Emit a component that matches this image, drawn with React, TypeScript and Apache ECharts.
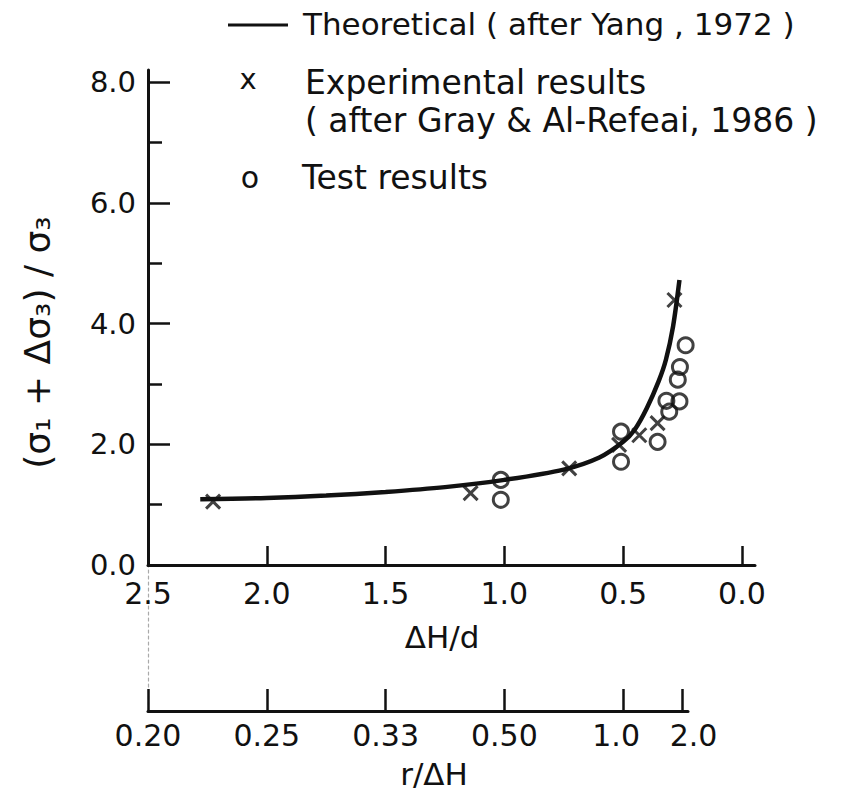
import React, { useEffect, useRef } from "react";
import * as echarts from "echarts";

// ---- data ----
const curveX = [2.28, 2.0, 1.75, 1.5, 1.25, 1.0, 0.75, 0.6, 0.5, 0.45, 0.4, 0.35, 0.32, 0.29, 0.263];
const curveY = [1.09, 1.11, 1.15, 1.21, 1.29, 1.41, 1.58, 1.78, 2.04, 2.25, 2.6, 3.05, 3.4, 3.95, 4.72];

const expX = [2.226, 1.142, 0.727, 0.517, 0.432, 0.355, 0.284];
const expY = [1.05, 1.19, 1.6, 1.99, 2.15, 2.35, 4.39];

const testX = [1.015, 1.015, 0.509, 0.509, 0.355, 0.306, 0.318, 0.263, 0.27, 0.261, 0.237];
const testY = [1.41, 1.08, 2.21, 1.71, 2.04, 2.54, 2.72, 2.71, 3.07, 3.28, 3.64];

const xTickValues = [2.5, 2.0, 1.5, 1.0, 0.5, 0.0];
const xTickMarks = [2.0, 1.5, 1.0, 0.5, 0.0];
const yTickValues = [0, 2, 4, 6, 8];
const yMinorTicks = [1, 3, 5, 7];

// r/ΔH secondary scale (r = d/2, so ΔH/d = 0.5 / (r/ΔH))
const rValues = [0.2, 0.25, 1 / 3, 0.5, 1.0, 2.0];
const rLabels = ["0.20", "0.25", "0.33", "0.50", "1.0", "2.0"];

const legendTexts = [
  "Theoretical ( after Yang , 1972 )",
  "Experimental results",
  "( after Gray & Al-Refeai, 1986 )",
  "Test results",
];

const INK = "#111";
const FONT = "'DejaVu Sans', 'Liberation Sans', sans-serif";

export default function App() {
  const ref = useRef<HTMLDivElement>(null);

  useEffect(() => {
    if (!ref.current) return;
    const chart = echarts.init(ref.current, undefined, { renderer: "svg" });

    const rPositions = rValues.map((r) => 0.5 / r);
    const rIndexFor = (v: number) => {
      let best = 0;
      let bd = Infinity;
      rPositions.forEach((p, i) => {
        const d = Math.abs(p - v);
        if (d < bd) {
          bd = d;
          best = i;
        }
      });
      return best;
    };
    const rLabelFormatter = (v: number) => {
      const i = rIndexFor(v);
      const txt = rLabels[i];
      if (i === rLabels.length - 1) return "{sr|" + txt + "}";
      if (i === rLabels.length - 2) return "{sl|" + txt + "}";
      return txt;
    };

    const option: any = {
      animation: false,
      backgroundColor: "#fff",
      textStyle: { fontFamily: FONT, color: INK },
      grid: [
        { left: 148, top: 70, width: 607, height: 495, containLabel: false, outerBoundsMode: "none" },
        { left: 148, top: 565, width: 540, height: 146, containLabel: false, outerBoundsMode: "none" },
      ],
      xAxis: [
        {
          type: "value",
          gridIndex: 0,
          inverse: true,
          min: -0.055,
          max: 2.5,
          axisLine: { show: true, onZero: false, lineStyle: { color: INK, width: 3 } },
          axisTick: {
            show: true,
            inside: true,
            length: 19,
            customValues: xTickMarks,
            lineStyle: { color: INK, width: 2.5 },
          },
          axisLabel: {
            show: true,
            customValues: xTickValues,
            formatter: (v: number) => v.toFixed(1),
            margin: 13,
            fontSize: 30,
            color: INK,
            fontFamily: FONT,
          },
          splitLine: { show: false },
          name: "ΔH/d",
          nameLocation: "middle",
          nameGap: 56,
          nameTextStyle: { fontSize: 31, color: INK, fontFamily: FONT, padding: [0, 19, 0, 0] },
        },
        {
          type: "value",
          gridIndex: 1,
          inverse: true,
          min: 0.227,
          max: 2.5,
          axisLine: { show: true, onZero: false, lineStyle: { color: INK, width: 3 } },
          axisTick: {
            show: true,
            inside: true,
            length: 22,
            customValues: rPositions,
            lineStyle: { color: INK, width: 2.5 },
          },
          axisLabel: {
            show: true,
            customValues: rPositions,
            formatter: rLabelFormatter,
            margin: 9,
            fontSize: 30,
            color: INK,
            fontFamily: FONT,
            rich: {
              sl: { fontSize: 30, fontFamily: FONT, color: INK, padding: [0, 14, 0, 0] },
              sr: { fontSize: 30, fontFamily: FONT, color: INK, padding: [0, 0, 0, 22] },
            },
          },
          splitLine: { show: false },
          name: "r/ΔH",
          nameLocation: "middle",
          nameGap: 47,
          nameTextStyle: { fontSize: 31, color: INK, fontFamily: FONT, padding: [0, 0, 0, 32] },
        },
      ],
      yAxis: [
        {
          type: "value",
          gridIndex: 0,
          position: "left",
          min: 0,
          max: 8.2,
          axisLine: { show: true, onZero: false, lineStyle: { color: INK, width: 3 } },
          axisTick: {
            show: true,
            inside: true,
            length: 22,
            customValues: yTickValues,
            lineStyle: { color: INK, width: 2.5 },
          },
          axisLabel: {
            show: true,
            customValues: yTickValues,
            formatter: (v: number) => v.toFixed(1),
            margin: 12,
            fontSize: 29,
            color: INK,
            fontFamily: FONT,
          },
          splitLine: { show: false },
          name: "(σ₁ + Δσ₃) / σ₃",
          nameLocation: "middle",
          nameGap: 93,
          nameTextStyle: { fontSize: 36, color: INK, fontFamily: FONT, padding: [0, 50, 0, 0] },
        },
        {
          type: "value",
          gridIndex: 0,
          position: "left",
          min: 0,
          max: 8.2,
          axisLine: { show: false, onZero: false },
          axisTick: {
            show: true,
            inside: true,
            length: 14,
            customValues: yMinorTicks,
            lineStyle: { color: INK, width: 2.5 },
          },
          axisLabel: { show: false },
          splitLine: { show: false },
        },
        {
          type: "value",
          gridIndex: 1,
          position: "left",
          min: 0,
          max: 1,
          axisLine: { show: true, onZero: false, lineStyle: { color: "#aaa", width: 1.2, type: [3, 3] } },
          axisTick: { show: false },
          axisLabel: { show: false },
          splitLine: { show: false },
        },
      ],
      series: [
        {
          type: "line",
          name: legendTexts[0],
          xAxisIndex: 0,
          yAxisIndex: 0,
          data: curveX.map((x, i) => [x, curveY[i]]),
          showSymbol: false,
          smooth: 0.3,
          lineStyle: { color: INK, width: 4.5 },
          z: 2,
        },
        {
          type: "scatter",
          name: legendTexts[1],
          xAxisIndex: 0,
          yAxisIndex: 0,
          data: expX.map((x, i) => [x, expY[i]]),
          symbol: "path://M0,0L10,10M10,0L0,10",
          symbolSize: 14,
          itemStyle: { color: INK, borderColor: INK, borderWidth: 3 },
          z: 3,
        },
        {
          type: "scatter",
          name: legendTexts[3],
          xAxisIndex: 0,
          yAxisIndex: 0,
          data: testX.map((x, i) => [x, testY[i]]),
          symbol: "circle",
          symbolSize: 15,
          itemStyle: { color: "rgba(255,255,255,0)", borderColor: INK, borderWidth: 3 },
          z: 3,
        },
      ],
      graphic: [
        {
          type: "line",
          shape: { x1: 228, y1: 25, x2: 288, y2: 25 },
          style: { stroke: INK, lineWidth: 3 },
        },
        {
          type: "text",
          x: 303,
          y: 24,
          style: { text: legendTexts[0], fontSize: 31, fontFamily: FONT, fill: INK, align: "left", verticalAlign: "middle" },
        },
        {
          type: "text",
          x: 248,
          y: 79,
          style: { text: "x", fontSize: 29, fontFamily: FONT, fill: INK, align: "center", verticalAlign: "middle" },
        },
        {
          type: "text",
          x: 305,
          y: 82,
          style: { text: legendTexts[1], fontSize: 33, fontFamily: FONT, fill: INK, align: "left", verticalAlign: "middle" },
        },
        {
          type: "text",
          x: 305,
          y: 120,
          style: { text: legendTexts[2], fontSize: 33, fontFamily: FONT, fill: INK, align: "left", verticalAlign: "middle" },
        },
        {
          type: "text",
          x: 250,
          y: 177,
          style: { text: "o", fontSize: 30, fontFamily: FONT, fill: INK, align: "center", verticalAlign: "middle" },
        },
        {
          type: "text",
          x: 302,
          y: 177,
          style: { text: legendTexts[3], fontSize: 33, fontFamily: FONT, fill: INK, align: "left", verticalAlign: "middle" },
        },
      ],
    };

    chart.setOption(option);
    return () => {
      chart.dispose();
    };
  }, []);

  return (
    <div
      ref={ref}
      style={{ position: "absolute", left: 0, top: 0, width: 848, height: 794, background: "#fff" }}
    />
  );
}
